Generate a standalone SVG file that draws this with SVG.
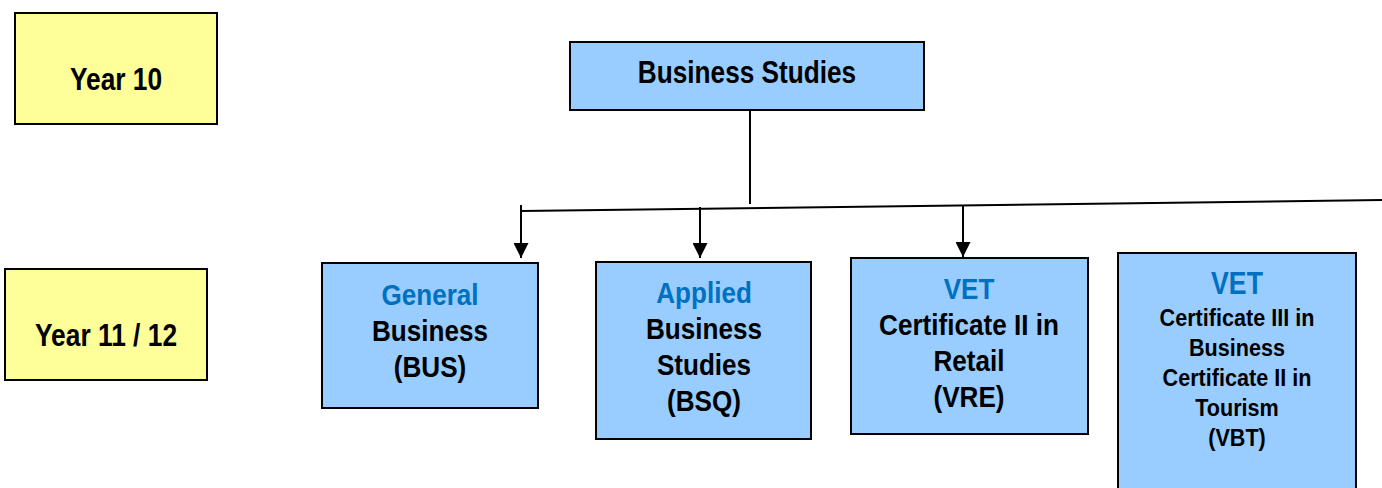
<svg xmlns="http://www.w3.org/2000/svg" width="1382" height="488" viewBox="0 0 1382 488">
<style>
.y{fill:#FFFF99;stroke:#000;stroke-width:2}
.b{fill:#99CCFF;stroke:#000;stroke-width:2}
text{font-family:"Liberation Sans",Arial,sans-serif;font-weight:bold;text-anchor:middle;fill:#000}
.t{font-size:31px}
.m{font-size:29px}
.h{fill:#0070C0}
.s{font-size:24px}
.c{stroke:#000;stroke-width:2;fill:none}
</style>
<defs>
<marker id="a" viewBox="0 0 16 16" refX="16" refY="8" markerWidth="15" markerHeight="15" orient="auto" markerUnits="userSpaceOnUse"><path d="M0,0 L16,8 L0,16 Z" fill="#000"/></marker>
</defs>
<g id="year10"><rect class="y" x="15" y="13" width="202" height="111"/><g transform="translate(116,0) scale(0.85,1)"><text class="t" x="0" y="90">Year 10</text></g></g>
<g id="year1112"><rect class="y" x="5" y="269" width="202" height="111"/><g transform="translate(106,0) scale(0.85,1)"><text class="t" x="0" y="346">Year 11 / 12</text></g></g>
<g id="business-studies"><rect class="b" x="570" y="42" width="354" height="68"/><g transform="translate(747,0) scale(0.845,1)"><text class="t" x="0" y="83">Business Studies</text></g></g>
<g id="connectors">
<line class="c" x1="750" y1="110" x2="750" y2="204"/>
<line class="c" x1="521" y1="211" x2="1382" y2="200"/>
<line class="c" x1="521" y1="205" x2="521" y2="258" marker-end="url(#a)"/>
<line class="c" x1="700" y1="207" x2="700" y2="258" marker-end="url(#a)"/>
<line class="c" x1="963" y1="206" x2="963" y2="257" marker-end="url(#a)"/>
</g>
<g id="general"><rect class="b" x="322" y="263" width="216" height="145"/>
<g transform="translate(430,0) scale(0.9,1)"><text class="m" x="0" y="305"><tspan class="h">General</tspan><tspan x="0" dy="36">Business</tspan><tspan x="0" dy="36">(BUS)</tspan></text></g></g>
<g id="applied"><rect class="b" x="596" y="262" width="215" height="177"/>
<g transform="translate(704,0) scale(0.9,1)"><text class="m" x="0" y="303"><tspan class="h">Applied</tspan><tspan x="0" dy="36">Business</tspan><tspan x="0" dy="36">Studies</tspan><tspan x="0" dy="36">(BSQ)</tspan></text></g></g>
<g id="vet-retail"><rect class="b" x="851" y="258" width="237" height="176"/>
<g transform="translate(969,0) scale(0.9,1)"><text class="m" x="0" y="299"><tspan class="h">VET</tspan><tspan x="0" dy="36">Certificate II in</tspan><tspan x="0" dy="36">Retail</tspan><tspan x="0" dy="36">(VRE)</tspan></text></g></g>
<g id="vet-business"><rect class="b" x="1118" y="253" width="238" height="240"/>
<g transform="translate(1237,0) scale(0.86,1)"><text class="t h" x="0" y="294">VET</text></g>
<g transform="translate(1237,0) scale(0.9,1)"><text class="s" x="0" y="326"><tspan>Certificate III in</tspan><tspan x="0" dy="30">Business</tspan><tspan x="0" dy="30">Certificate II in</tspan><tspan x="0" dy="30">Tourism</tspan><tspan x="0" dy="30">(VBT)</tspan></text></g></g>
</svg>
